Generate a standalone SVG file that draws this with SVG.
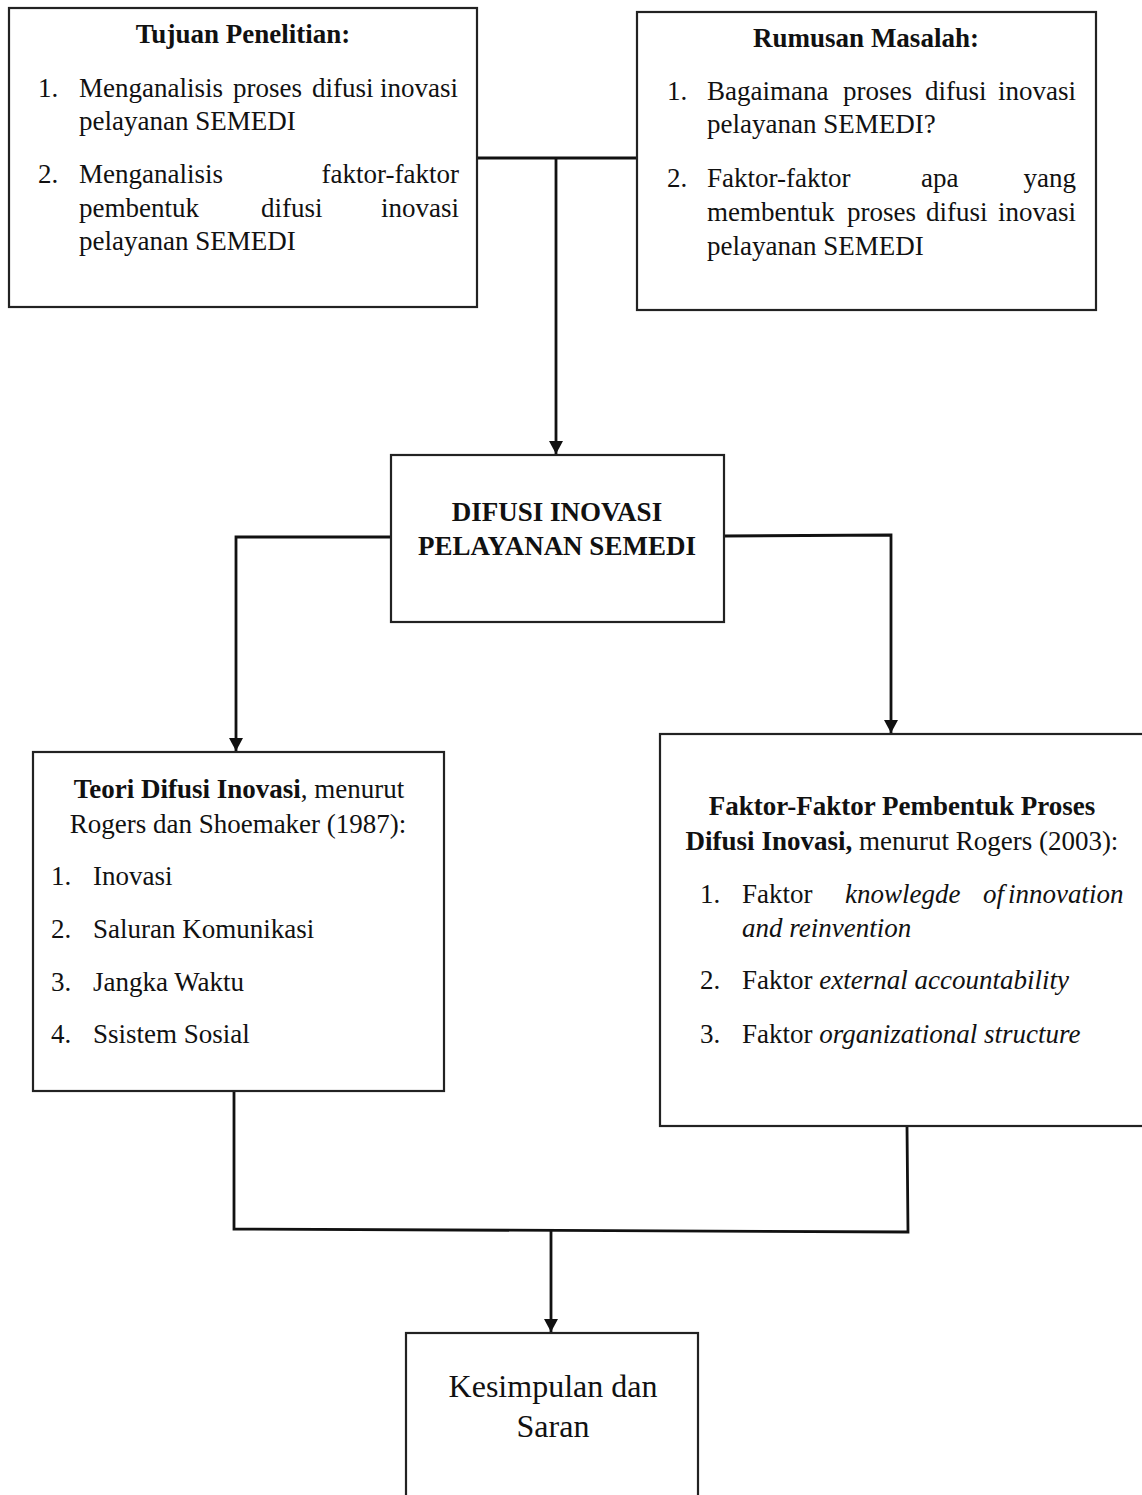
<svg xmlns="http://www.w3.org/2000/svg" width="1142" height="1495" viewBox="0 0 1142 1495">
<style>
.box{fill:#fff;stroke:#222;stroke-width:2.2}
.t{font-family:"Liberation Serif","Times New Roman",serif;font-size:27px;fill:#111}
.b{font-weight:bold}
.i{font-style:italic}
.c{text-anchor:middle}
.e{text-anchor:end}
.big{font-size:32px}
.ln{fill:none;stroke:#111;stroke-width:2.8}
</style>
<defs>
<marker id="arr" markerUnits="userSpaceOnUse" markerWidth="14" markerHeight="14" viewBox="0 0 14 14" refX="13" refY="7" orient="auto">
<path d="M0,0 L13,7 L0,14 Z" fill="#111"/>
</marker>
</defs>
<rect width="1142" height="1495" fill="#fff"/>

<g id="connectors">
<path class="ln" d="M477,158 L637,158"/>
<path class="ln" d="M556,158 L556,454" marker-end="url(#arr)"/>
<path class="ln" d="M391,537 L236,537 L236,751" marker-end="url(#arr)"/>
<path class="ln" d="M724,536 L891,535 L891,733" marker-end="url(#arr)"/>
<path class="ln" d="M234,1091 L234,1229 L908,1232 L907,1126"/>
<path class="ln" d="M551,1231 L551,1332" marker-end="url(#arr)"/>
</g>

<g id="tujuan">
<rect class="box" x="9" y="8" width="468" height="299"/>
<text class="t b c" x="243" y="43">Tujuan Penelitian:</text>
<text class="t" x="38" y="97">1.</text>
<text class="t" y="97"><tspan x="79">Menganalisis</tspan><tspan x="233">proses</tspan><tspan x="312">difusi</tspan><tspan x="380">inovasi</tspan></text>
<text class="t" x="79" y="130">pelayanan SEMEDI</text>
<text class="t" x="38" y="183">2.</text>
<text class="t" x="79" y="183">Menganalisis</text>
<text class="t e" x="459" y="183">faktor-faktor</text>
<text class="t" x="79" y="217">pembentuk</text>
<text class="t" x="261" y="217">difusi</text>
<text class="t e" x="459" y="217">inovasi</text>
<text class="t" x="79" y="250">pelayanan SEMEDI</text>
</g>

<g id="rumusan">
<rect class="box" x="637" y="12" width="459" height="298"/>
<text class="t b c" x="866" y="47">Rumusan Masalah:</text>
<text class="t" x="667" y="100">1.</text>
<text class="t" y="100"><tspan x="707">Bagaimana</tspan><tspan x="843">proses</tspan><tspan x="925">difusi</tspan><tspan x="998">inovasi</tspan></text>
<text class="t" x="707" y="133">pelayanan SEMEDI?</text>
<text class="t" x="667" y="187">2.</text>
<text class="t" x="707" y="187">Faktor-faktor</text>
<text class="t" x="921" y="187">apa</text>
<text class="t e" x="1076" y="187">yang</text>
<text class="t" y="221"><tspan x="707">membentuk</tspan><tspan x="847">proses</tspan><tspan x="926">difusi</tspan><tspan x="998">inovasi</tspan></text>
<text class="t" x="707" y="255">pelayanan SEMEDI</text>
</g>

<g id="difusi">
<rect class="box" x="391" y="455" width="333" height="167"/>
<text class="t b c" x="557" y="521">DIFUSI INOVASI</text>
<text class="t b c" x="557" y="555">PELAYANAN SEMEDI</text>
</g>

<g id="teori">
<rect class="box" x="33" y="752" width="411" height="339"/>
<text class="t c" x="239" y="798"><tspan class="b">Teori Difusi Inovasi</tspan>, menurut</text>
<text class="t c" x="238" y="833">Rogers dan Shoemaker (1987):</text>
<text class="t" x="51" y="885">1.</text>
<text class="t" x="93" y="885">Inovasi</text>
<text class="t" x="51" y="938">2.</text>
<text class="t" x="93" y="938">Saluran Komunikasi</text>
<text class="t" x="51" y="991">3.</text>
<text class="t" x="93" y="991">Jangka Waktu</text>
<text class="t" x="51" y="1043">4.</text>
<text class="t" x="93" y="1043">Ssistem Sosial</text>
</g>

<g id="faktor">
<rect class="box" x="660" y="734" width="500" height="392"/>
<text class="t b c" x="902" y="815">Faktor-Faktor Pembentuk Proses</text>
<text class="t c" x="902" y="850"><tspan class="b">Difusi Inovasi,</tspan> menurut Rogers (2003):</text>
<text class="t" x="700" y="903">1.</text>
<text class="t" x="742" y="903">Faktor</text>
<text class="t i" y="903"><tspan x="845">knowlegde</tspan><tspan x="983">of</tspan><tspan x="1008">innovation</tspan></text>
<text class="t i" x="742" y="937">and reinvention</text>
<text class="t" x="700" y="989">2.</text>
<text class="t" x="742" y="989">Faktor <tspan class="i">external accountability</tspan></text>
<text class="t" x="700" y="1043">3.</text>
<text class="t" x="742" y="1043">Faktor <tspan class="i">organizational structure</tspan></text>
</g>

<g id="kesimpulan">
<rect class="box" x="406" y="1333" width="292" height="180"/>
<text class="t big c" x="553" y="1397">Kesimpulan dan</text>
<text class="t big c" x="553" y="1437">Saran</text>
</g>
</svg>
